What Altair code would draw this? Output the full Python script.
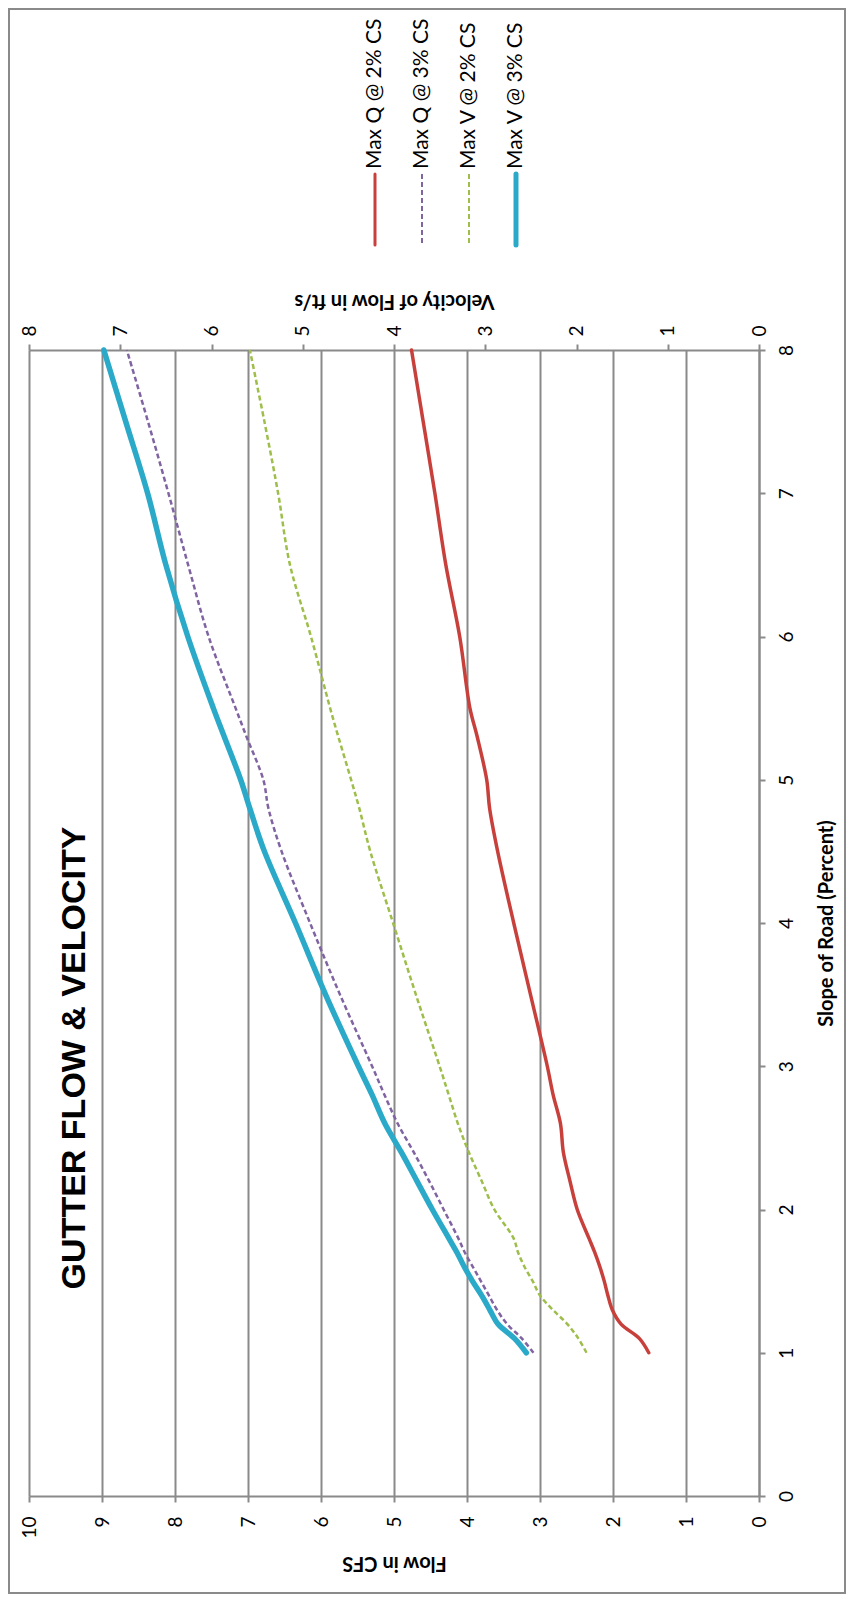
import altair as alt
import pandas as pd

# ---------------- data ----------------
slope = [1.0, 1.1, 1.2, 1.3, 1.4, 1.5, 1.6, 1.7, 1.8, 2.0, 2.2, 2.4, 2.6, 2.8,
         3.0, 3.5, 4.0, 4.5, 4.8, 5.0, 5.3, 5.5, 6.0, 6.5, 7.0, 7.5, 8.0]
max_q_2 = [1.51, 1.64, 1.89, 2.01, 2.07, 2.12, 2.18, 2.25, 2.33, 2.49, 2.59, 2.68, 2.72, 2.82,
           2.90, 3.13, 3.36, 3.58, 3.69, 3.73, 3.86, 3.96, 4.10, 4.29, 4.44, 4.60, 4.76]
max_q_3 = [3.09, 3.25, 3.45, 3.59, 3.70, 3.81, 3.92, 4.03, 4.12, 4.32, 4.52, 4.73, 4.95, 5.13,
           5.30, 5.74, 6.15, 6.54, 6.72, 6.79, 7.02, 7.17, 7.54, 7.82, 8.09, 8.37, 8.66]
max_v_2 = [1.89, 1.98, 2.10, 2.26, 2.40, 2.48, 2.57, 2.64, 2.69, 2.90, 3.04, 3.18, 3.30, 3.40,
           3.50, 3.76, 4.01, 4.26, 4.38, 4.47, 4.61, 4.70, 4.91, 5.14, 5.27, 5.42, 5.58]
max_v_3 = [2.55, 2.68, 2.86, 2.95, 3.04, 3.14, 3.23, 3.31, 3.40, 3.58, 3.75, 3.92, 4.10, 4.24,
           4.39, 4.75, 5.08, 5.42, 5.58, 5.68, 5.86, 5.98, 6.26, 6.50, 6.70, 6.94, 7.18]

series_names = ["Max Q @ 2% CS", "Max Q @ 3% CS", "Max V @ 2% CS", "Max V @ 3% CS"]
series_colors = ["#C8403C", "#8064A2", "#9DBE4A", "#2AAAC8"]
series_widths = [3.5, 2.5, 2.5, 5.5]
series_dash = [None, [5, 3], [5, 3], None]

flow_ticks = list(range(0, 11))
vel_ticks = list(range(0, 9))
slope_ticks = list(range(0, 9))

chart_title = "GUTTER FLOW & VELOCITY"
flow_title = "Flow in CFS"
vel_title = "Velocity of Flow in ft/s"
slope_title = "Slope of Road (Percent)"

# ---------------- styling ----------------
FONT = "Lato"
GRAY = "#8a8a8a"
W, H = 730, 1146

df = pd.DataFrame({"slope": slope, "q2": max_q_2, "q3": max_q_3,
                   "v2": max_v_2, "v3": max_v_3})

y_enc = alt.Y(
    "slope:Q",
    scale=alt.Scale(domain=[0, 8], nice=False, zero=False),
    axis=alt.Axis(orient="right", values=slope_ticks, title=slope_title, grid=False,
                  labelAngle=270, labelAlign="center", labelBaseline="top", labelPadding=12,
                  titleAngle=270, titleX=67, titleY=H / 2, titleAlign="center",
                  titleBaseline="middle"),
)


def x_flow(field):
    return alt.X(
        f"{field}:Q",
        scale=alt.Scale(domain=[0, 10], reverse=True, nice=False, zero=False),
        axis=alt.Axis(orient="bottom", values=flow_ticks, title=flow_title, grid=True,
                      gridColor=GRAY, gridWidth=2,
                      labelAngle=270, labelAlign="right", labelBaseline="middle",
                      labelPadding=14, titleAngle=180, titleX=W / 2, titleY=66,
                      titleAlign="center", titleBaseline="middle"),
    )


def x_vel(field):
    return alt.X(
        f"{field}:Q",
        scale=alt.Scale(domain=[0, 8], reverse=True, nice=False, zero=False),
        axis=alt.Axis(orient="top", values=vel_ticks, title=vel_title, grid=False,
                      labelAngle=270, labelAlign="left", labelBaseline="middle",
                      labelPadding=8, titleAngle=180, titleX=W / 2, titleY=-50,
                      titleAlign="center", titleBaseline="middle"),
    )


def line(field, i, xfun):
    kw = dict(color=series_colors[i], strokeWidth=series_widths[i],
              interpolate="catmull-rom", strokeCap="round", strokeJoin="round")
    if series_dash[i] is not None:
        kw["strokeDash"] = series_dash[i]
        kw["strokeCap"] = "butt"
    return alt.Chart(df).mark_line(**kw).encode(
        x=xfun(field), y=y_enc, order=alt.Order("slope:Q"))


q_layer = alt.layer(line("q2", 0, x_flow), line("q3", 1, x_flow))
v_layer = alt.layer(line("v2", 2, x_vel), line("v3", 3, x_vel))

one = pd.DataFrame({"k": [0]})

border = alt.Chart(one).mark_rect(fill="transparent", stroke=GRAY, strokeWidth=2).encode(
    x=alt.value(-20), x2=alt.value(W + 86), y=alt.value(-341), y2=alt.value(H + 97))

title = alt.Chart(pd.DataFrame({"t": [chart_title]})).mark_text(
    angle=270, font="Liberation Sans", fontSize=34, fontWeight="bold",
    align="center", baseline="middle", color="black"
).encode(x=alt.value(46), y=alt.value(708), text="t:N")

legend_x = [346, 393, 440, 487]
legend_layers = []
for i, name in enumerate(series_names):
    kw = dict(color=series_colors[i], strokeWidth=series_widths[i] - 0.5,
              strokeCap="round")
    if series_dash[i] is not None:
        kw["strokeDash"] = series_dash[i]
        kw["strokeCap"] = "butt"
    legend_layers.append(
        alt.Chart(one).mark_rule(**kw).encode(
            x=alt.value(legend_x[i]), y=alt.value(-176), y2=alt.value(-105)))
    legend_layers.append(
        alt.Chart(pd.DataFrame({"n": [name]})).mark_text(
            angle=270, align="left", baseline="middle", font=FONT, fontSize=21,
            color="black"
        ).encode(x=alt.value(legend_x[i]), y=alt.value(-181), text="n:N"))

chart = alt.layer(q_layer, v_layer, border, title, *legend_layers).resolve_scale(
    x="independent"
).properties(
    width=W, height=H,
    autosize=alt.AutoSizeParams(type="none"),
    padding={"left": 21, "top": 342, "right": 87, "bottom": 98},
    background="white",
).configure_view(strokeWidth=0).configure_axis(
    domainColor=GRAY, domainWidth=2, tickColor=GRAY, tickWidth=2, tickSize=6,
    labelFont=FONT, labelFontSize=19, labelColor="black",
    titleFont=FONT, titleFontSize=20, titleFontWeight="bold", titleColor="black",
)

chart.save("out.html", embed_options={"renderer": "svg", "actions": False})
